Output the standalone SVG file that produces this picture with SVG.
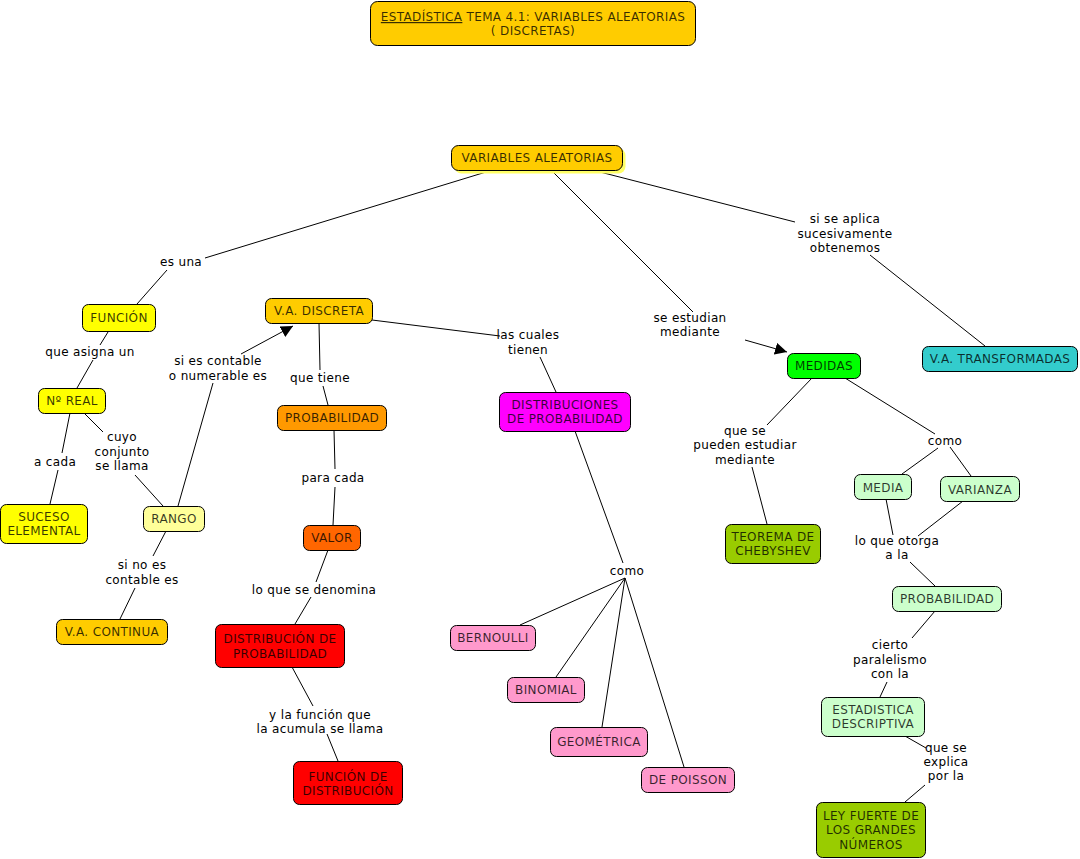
<svg xmlns="http://www.w3.org/2000/svg" width="1080" height="859" viewBox="0 0 1080 859">
<defs>
<style>
text{font-family:"DejaVu Sans",Verdana,sans-serif;font-size:12px;text-anchor:middle;letter-spacing:0.35px}
.n rect{stroke:#000;stroke-width:1}
.n text{fill:#000;fill-opacity:0.78}
.l text{fill:#000}
#connectors line{stroke:#000;stroke-width:1}
</style>
<marker id="arr" viewBox="0 0 10 10" refX="10" refY="5" markerWidth="12" markerHeight="12" markerUnits="userSpaceOnUse" orient="auto">
<path d="M0,0 L10,5 L0,10 z" fill="#000"/>
</marker>
</defs>
<rect width="1080" height="859" fill="#fff"/>

<g id="connectors">
<line x1="486" y1="172" x2="205" y2="258"/>
<line x1="167" y1="270" x2="137" y2="304"/>
<line x1="108" y1="332" x2="100" y2="345"/>
<line x1="93" y1="360" x2="77" y2="388"/>
<line x1="70" y1="413" x2="62" y2="453"/>
<line x1="58" y1="470" x2="50" y2="504"/>
<line x1="84" y1="413" x2="103" y2="432"/>
<line x1="135" y1="475" x2="163" y2="506"/>
<line x1="178" y1="506" x2="213" y2="383"/>
<line x1="241" y1="354" x2="293" y2="326" marker-end="url(#arr)"/>
<line x1="166" y1="531" x2="153" y2="556"/>
<line x1="135" y1="588" x2="120" y2="619"/>
<line x1="319" y1="323" x2="320" y2="370"/>
<line x1="323" y1="386" x2="328" y2="405"/>
<line x1="334" y1="430" x2="335" y2="469"/>
<line x1="335" y1="487" x2="333" y2="525"/>
<line x1="328" y1="550" x2="316" y2="582"/>
<line x1="311" y1="597" x2="295" y2="624"/>
<line x1="292" y1="667" x2="313" y2="706"/>
<line x1="327" y1="734" x2="338" y2="761"/>
<line x1="372" y1="320" x2="500" y2="336"/>
<line x1="540" y1="357" x2="556" y2="392"/>
<line x1="575" y1="431" x2="623" y2="563"/>
<line x1="625" y1="578" x2="520" y2="625"/>
<line x1="625" y1="578" x2="556" y2="677"/>
<line x1="625" y1="578" x2="602" y2="727"/>
<line x1="625" y1="578" x2="684" y2="767"/>
<line x1="553" y1="172" x2="693" y2="312"/>
<line x1="745" y1="340" x2="787" y2="352" marker-end="url(#arr)"/>
<line x1="600" y1="172" x2="795" y2="222"/>
<line x1="870" y1="255" x2="985" y2="346"/>
<line x1="812" y1="378" x2="767" y2="425"/>
<line x1="752" y1="467" x2="767" y2="524"/>
<line x1="845" y1="378" x2="935" y2="434"/>
<line x1="938" y1="448" x2="902" y2="474"/>
<line x1="950" y1="447" x2="971" y2="476"/>
<line x1="886" y1="499" x2="893" y2="535"/>
<line x1="963" y1="501" x2="918" y2="536"/>
<line x1="910" y1="562" x2="935" y2="586"/>
<line x1="935" y1="611" x2="912" y2="638"/>
<line x1="887" y1="682" x2="880" y2="697"/>
<line x1="905" y1="736" x2="926" y2="748"/>
<line x1="925" y1="785" x2="905" y2="802"/>
</g>

<g class="l">
<text x="181" y="266">es una</text>
<text x="90" y="356">que asigna un</text>
<text x="55" y="466">a cada</text>
<text x="122" y="441">cuyo</text>
<text x="122" y="456">conjunto</text>
<text x="122" y="470">se llama</text>
<text x="218" y="365">si es contable</text>
<text x="218" y="380">o numerable es</text>
<text x="142" y="569">si no es</text>
<text x="142" y="584">contable es</text>
<text x="320" y="382">que tiene</text>
<text x="333" y="482">para cada</text>
<text x="314" y="594">lo que se denomina</text>
<text x="320" y="719">y la función que</text>
<text x="320" y="733">la acumula se llama</text>
<text x="528" y="339">las cuales</text>
<text x="528" y="354">tienen</text>
<text x="627" y="575">como</text>
<text x="690" y="322">se estudian</text>
<text x="690" y="336">mediante</text>
<text x="845" y="223">si se aplica</text>
<text x="845" y="238">sucesivamente</text>
<text x="845" y="252">obtenemos</text>
<text x="745" y="435">que se</text>
<text x="745" y="449">pueden estudiar</text>
<text x="745" y="464">mediante</text>
<text x="945" y="445">como</text>
<text x="897" y="545">lo que otorga</text>
<text x="897" y="559">a la</text>
<text x="890" y="649">cierto</text>
<text x="890" y="664">paralelismo</text>
<text x="890" y="678">con la</text>
<text x="946" y="752">que se</text>
<text x="946" y="766">explica</text>
<text x="946" y="780">por la</text>
</g>

<g id="title" class="n"><rect x="370.5" y="1.5" width="325" height="44" rx="7" fill="#ffcc00"/>
<text x="533" y="21"><tspan text-decoration="underline">ESTADÍSTICA</tspan> TEMA 4.1: VARIABLES ALEATORIAS</text>
<text x="533" y="35">( DISCRETAS)</text></g>

<g id="n-va" class="n"><rect x="454.5" y="148.5" width="171" height="25" rx="7" fill="#ffff66" style="stroke:none"/>
<rect x="451.5" y="145.5" width="171" height="25" rx="7" fill="#ffcc00"/>
<text x="537" y="162">VARIABLES ALEATORIAS</text></g>

<g id="n-funcion" class="n"><rect x="82.5" y="304.5" width="73" height="27" rx="6" fill="#ffff00"/><text x="119" y="322">FUNCIÓN</text></g>
<g id="n-nreal" class="n"><rect x="38.5" y="388.5" width="67" height="25" rx="6" fill="#ffff00"/><text x="72" y="405">Nº REAL</text></g>
<g id="n-suceso" class="n"><rect x="0.5" y="504.5" width="87" height="39" rx="6" fill="#ffff00"/><text x="44" y="521">SUCESO</text><text x="44" y="535">ELEMENTAL</text></g>
<g id="n-rango" class="n"><rect x="143.5" y="506.5" width="61" height="25" rx="6" fill="#ffff99"/><text x="174" y="523">RANGO</text></g>
<g id="n-continua" class="n"><rect x="56.5" y="619.5" width="111" height="25" rx="6" fill="#ffcc00"/><text x="112" y="636">V.A. CONTINUA</text></g>
<g id="n-discreta" class="n"><rect x="265.5" y="298.5" width="107" height="25" rx="6" fill="#ffcc00"/><text x="319" y="315">V.A. DISCRETA</text></g>
<g id="n-prob1" class="n"><rect x="277.5" y="405.5" width="109" height="25" rx="6" fill="#ff9900"/><text x="332" y="422">PROBABILIDAD</text></g>
<g id="n-valor" class="n"><rect x="303.5" y="525.5" width="57" height="25" rx="6" fill="#ff6600"/><text x="332" y="542">VALOR</text></g>
<g id="n-distprob" class="n"><rect x="215.5" y="624.5" width="129" height="43" rx="6" fill="#ff0000"/><text x="280" y="643">DISTRIBUCIÓN DE</text><text x="280" y="658">PROBABILIDAD</text></g>
<g id="n-funcdist" class="n"><rect x="293.5" y="761.5" width="109" height="43" rx="6" fill="#ff0000"/><text x="348" y="781">FUNCIÓN DE</text><text x="348" y="795">DISTRIBUCIÓN</text></g>
<g id="n-distribuciones" class="n"><rect x="499.5" y="392.5" width="131" height="39" rx="6" fill="#ff00ff"/><text x="565" y="409">DISTRIBUCIONES</text><text x="565" y="423">DE PROBABILIDAD</text></g>
<g id="n-bernoulli" class="n"><rect x="450.5" y="625.5" width="85" height="25" rx="6" fill="#ff99cc"/><text x="493" y="642">BERNOULLI</text></g>
<g id="n-binomial" class="n"><rect x="507.5" y="677.5" width="77" height="25" rx="6" fill="#ff99cc"/><text x="546" y="694">BINOMIAL</text></g>
<g id="n-geometrica" class="n"><rect x="550.5" y="727.5" width="97" height="29" rx="6" fill="#ff99cc"/><text x="599" y="746">GEOMÉTRICA</text></g>
<g id="n-poisson" class="n"><rect x="641.5" y="767.5" width="93" height="25" rx="6" fill="#ff99cc"/><text x="688" y="784">DE POISSON</text></g>
<g id="n-medidas" class="n"><rect x="787.5" y="353.5" width="73" height="25" rx="6" fill="#00ff00"/><text x="824" y="370">MEDIDAS</text></g>
<g id="n-transf" class="n"><rect x="922.5" y="346.5" width="155" height="25" rx="6" fill="#33cccc"/><text x="1000" y="363">V.A. TRANSFORMADAS</text></g>
<g id="n-cheby" class="n"><rect x="725.5" y="524.5" width="95" height="39" rx="6" fill="#99cc00"/><text x="773" y="541">TEOREMA DE</text><text x="773" y="555">CHEBYSHEV</text></g>
<g id="n-media" class="n"><rect x="854.5" y="474.5" width="57" height="25" rx="6" fill="#ccffcc"/><text x="883" y="492">MEDIA</text></g>
<g id="n-varianza" class="n"><rect x="940.5" y="476.5" width="79" height="25" rx="6" fill="#ccffcc"/><text x="980" y="494">VARIANZA</text></g>
<g id="n-prob2" class="n"><rect x="892.5" y="586.5" width="109" height="25" rx="6" fill="#ccffcc"/><text x="947" y="603">PROBABILIDAD</text></g>
<g id="n-estad" class="n"><rect x="821.5" y="697.5" width="103" height="39" rx="6" fill="#ccffcc"/><text x="873" y="714">ESTADISTICA</text><text x="873" y="728">DESCRIPTIVA</text></g>
<g id="n-ley" class="n"><rect x="816.5" y="802.5" width="109" height="55" rx="6" fill="#99cc00"/><text x="871" y="820">LEY FUERTE DE</text><text x="871" y="834">LOS GRANDES</text><text x="871" y="849">NÚMEROS</text></g>
</svg>
